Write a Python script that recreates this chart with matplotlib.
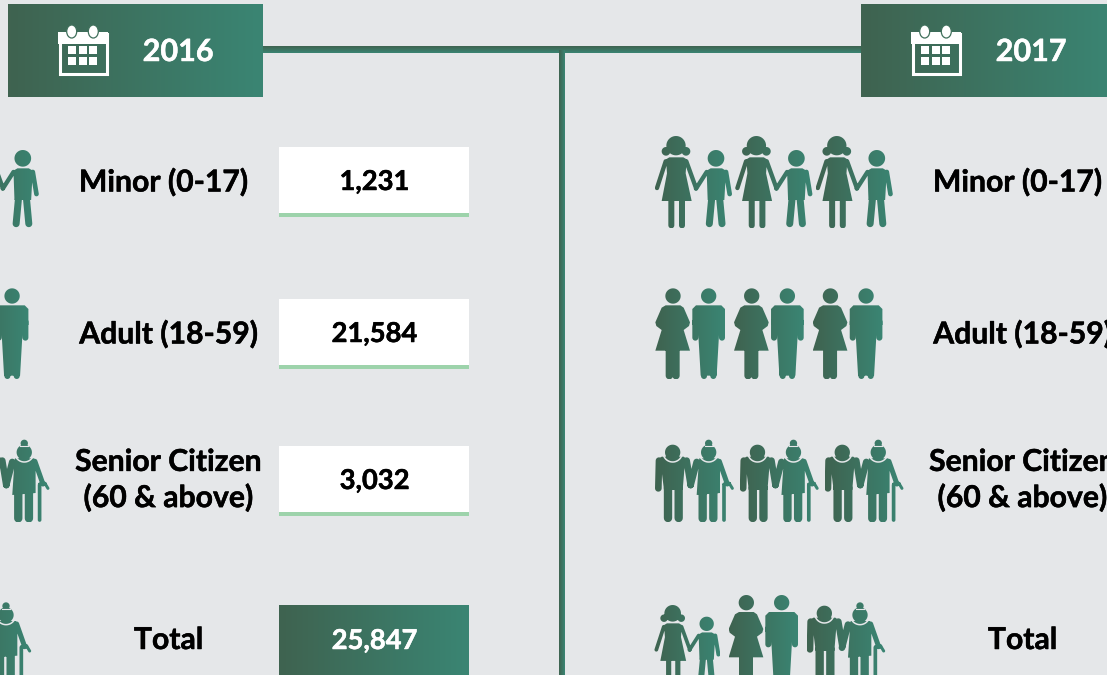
import numpy as np
import matplotlib
matplotlib.use('Agg')
import matplotlib.pyplot as plt
from matplotlib.colors import LinearSegmentedColormap
from matplotlib.patches import Rectangle, Ellipse, PathPatch
from matplotlib.path import Path
import matplotlib.patheffects as pe

# %%
#the data

years = ['2016', '2017']
categories = ['Minor (0-17)', 'Adult (18-59)', 'Senior Citizen\n(60 & above)', 'Total']
values_2016 = ['1,231', '21,584', '3,032', '25,847']

# %%
#output settings

plt.rcParams['font.family'] = ['Lato', 'DejaVu Sans']
plt.rcParams['font.weight'] = 'bold'

BG = '#e5e7e9'
DARK = '#3f6350'
TEAL = '#3a8573'
LINE = '#9dd3ab'
grad = LinearSegmentedColormap.from_list('grad', [DARK, TEAL])

fig = plt.figure(figsize=(11.07, 6.75), dpi=100, facecolor=BG)
ax = fig.add_axes([0, 0, 1, 1])
ax.set_facecolor(BG)
ax.axis('off')


# %%
#shape helpers, everything is in pixels, icon shapes in 3x pixels

def poly(pts):
    pts = np.asarray(pts, float)
    x, y = pts[:, 0], pts[:, 1]
    if np.sum(x*np.roll(y, -1) - np.roll(x, -1)*y) < 0:          #same winding for all, or the overlaps cancel
        pts = pts[::-1]
    return pts

def circle(cx, cy, r):
    t = np.linspace(0, 2*np.pi, 40, endpoint=False)
    return poly(np.c_[cx + r*np.cos(t), cy + r*np.sin(t)])

def capsule(p0, p1, w):
    p0, p1 = np.array(p0, float), np.array(p1, float)
    a = np.arctan2(*(p1 - p0)[::-1])
    t = np.linspace(-np.pi/2, np.pi/2, 10)
    end1 = p1 + w/2*np.c_[np.cos(a + t), np.sin(a + t)]
    end0 = p0 + w/2*np.c_[np.cos(a + t + np.pi), np.sin(a + t + np.pi)]
    return poly(np.r_[end1, end0])


def girl():
    return [circle(0, 29, 29), circle(-30, 46, 13), circle(30, 46, 13),
            poly([(-30, 70), (-20, 64), (22, 64), (32, 70), (29, 112), (47, 195), (-43, 195), (-27, 112)]),
            capsule((-31, 76), (-57, 156), 13), capsule((31, 76), (60, 156), 13),
            capsule((-14, 190), (-14, 268), 18), capsule((18, 190), (18, 268), 18)], []

def boy():
    return [circle(0, 25, 25),
            poly([(-28, 62), (-16, 55), (18, 55), (30, 62), (25, 150), (-25, 150)]),
            capsule((-28, 66), (-60, 116), 13), capsule((30, 66), (41, 132), 14),
            capsule((-12, 135), (-20, 221), 21), capsule((10, 135), (18, 221), 21)], []

def woman():
    return [circle(0, 23, 23),
            poly([(-22, 51), (22, 51), (32, 58), (51, 102), (48, 113), (32, 125), (51, 187),
                  (-53, 187), (-34, 125), (-50, 113), (-53, 102), (-34, 58)]),
            capsule((-11, 185), (-11, 262), 22), capsule((9, 185), (9, 262), 22)], []

def man():
    return [circle(0, 23, 23),
            poly([(-38, 51), (38, 51), (49, 62), (49, 110), (-49, 110), (-49, 62)]),
            capsule((-40, 100), (-40, 148), 18), capsule((40, 100), (40, 148), 18),
            poly([(-31, 100), (31, 100), (31, 140), (24, 262), (-24, 262), (-31, 140)]),
            capsule((-14, 240), (-14, 263), 18), capsule((14, 240), (14, 263), 18)], []

def oldman():
    collar = [(0, 23, 29)]
    return [circle(0, 23, 23),
            poly([(-33, 36), (33, 36), (38, 40), (30, 136), (-26, 136), (-38, 40)]),
            capsule((-41, 48), (-43, 131), 20), capsule((42, 48), (54, 121), 20),
            capsule((-14, 130), (-14, 220), 25), capsule((18, 130), (18, 220), 25)], collar

def oldwoman():
    collar = [(0, 23, 29)]
    return [circle(0, 23, 23), circle(0, -4, 11),
            poly([(-28, 41), (30, 41), (34, 60), (34, 145), (-36, 151), (-30, 60)]),
            capsule((-36, 52), (-54, 121), 20), capsule((32, 50), (56, 118), 15),
            capsule((-18, 145), (-18, 221), 25), capsule((14, 145), (14, 221), 25),
            capsule((46, 121), (46, 226), 11), capsule((46, 118), (62, 116), 9),
            capsule((62, 116), (71, 131), 9)], collar


#(shape, x of head, y of top, scale) in 3x pixels of the 2017 column, one tuple per figure of a pair
row1 = [(girl, 1920 + 108, 408, 1.), (boy, 1920 + 228, 450, 1.)]
row2 = [(woman, 1920 + 99, 865, 1.), (man, 1920 + 206, 865, 1.)]
row3 = [(oldman, 1920 + 98, 1334, 1.), (oldwoman, 1920 + 206, 1334, 1.)]
row4a = [(girl, 1920 + 98, 1815, .86), (boy, 1920 + 200, 1850, .86)]
row4b = [(woman, 1920 + 319, 1785, 1.), (man, 1920 + 425, 1785, 1.)]
row4c = [(oldman, 1920 + 553, 1817, 1.), (oldwoman, 1920 + 660, 1822, 1.)]


def draw_pair(pair, dx):
    pieces, collars = [], []
    for shape, hx, top, s in pair:
        polys, rings = shape()
        pieces += [np.c_[(hx + s*p[:, 0])/3 + dx, (top + s*p[:, 1])/3] for p in polys]
        collars += [((hx + s*c[0])/3 + dx, (top + s*c[1])/3, s*c[2]/3) for c in rings]
    path = Path.make_compound_path(*[Path(np.r_[p, p[:1]], closed=True) for p in pieces])
    ext = path.get_extents()
    im = ax.imshow(np.linspace(0, 1, 64)[None, :], cmap=grad, aspect='auto', interpolation='bilinear',
                   extent=(ext.x0, ext.x1, ext.y1, ext.y0), zorder=2)
    im.set_clip_path(PathPatch(path, transform=ax.transData))
    t = np.linspace(np.radians(20), np.radians(160), 30)
    for cx, cy, r in collars:
        ax.plot(cx + r*np.cos(t), cy + r*np.sin(t), color=BG, lw=1.1, zorder=3)
    for shape, hx, top, s in pair:
        if shape is oldwoman:          #gap between bun and head
            ax.plot([hx/3 + dx - 4, hx/3 + dx + 4], [(top + s*4)/3]*2, color=BG, lw=.8, zorder=3)


def grad_box(x0, y0, x1, y1, vertical=False, z=1):
    g = np.linspace(0, 1, 64)
    ax.imshow(g[:, None] if vertical else g[None, :], cmap=grad, aspect='auto', interpolation='bilinear',
              extent=(x0, x1, y1, y0), zorder=z)


def calendar(x):
    #x is the left edge of the icon
    ax.add_patch(Rectangle((x + 1.5, 33.5), 47, 40, fill=False, ec='white', lw=2.2, zorder=3))
    ax.add_patch(Rectangle((x, 32), 50, 11.5, fc='white', ec='none', zorder=3))
    for rx in (13.7, 35.3):
        ax.add_patch(Ellipse((x + rx, 31.5), 10, 13, fc='white', ec='#40705c', lw=.9, zorder=4))
    for sx in (10, 21, 31):
        for sy in (46, 57.3):
            ax.add_patch(Rectangle((x + sx, sy), 8.3, 8, fc='white', ec='none', zorder=3))


def bold_text(x, y, s, color, size):
    #the reference text is a little heavier than Lato Bold
    ax.text(x, y, s, color=color, fontsize=size, ha='center', va='center', zorder=5, linespacing=1.3,
            path_effects=[pe.withStroke(linewidth=.35, foreground=color)])


# %%
#lines and year banners

grad_box(263, 47, 861, 53.5, vertical=True)
grad_box(559, 50, 565, 675)

for year, bx in zip(years, (8, 861)):
    grad_box(bx, 4, bx + 255, 97, z=2)
    calendar(bx + 50)
    bold_text(bx + 170, 52, year, 'white', 22)

# %%
#category rows, the 2017 column is the 2016 one shifted right

label_x = [163.5, 168.5, 168.5, 168.5]
label_y = [182, 334, 480, 640]
box_y = [(147, 213), (299, 365), (446, 512), (605, 675)]

for shift in (-854, 0):
    for cat, x, y in zip(categories, label_x, label_y):
        bold_text(x + shift + 854, y, cat, 'black', 21.7)
    for k in range(3):
        draw_pair(row1, shift + 80.4*k)
        draw_pair(row2, shift + 78.7*k)
        draw_pair(row3, shift + 84.8*k)
    for pair in (row4a, row4b, row4c):
        draw_pair(pair, shift)

for i, (val, (y0, y1)) in enumerate(zip(values_2016, box_y)):
    if i < 3:
        ax.add_patch(Rectangle((279, y0), 190, y1 - y0, fc='white', ec='none', zorder=2))
        ax.add_patch(Rectangle((279, y1), 190, 4, fc=LINE, ec='none', zorder=2))
        color = 'black'
    else:
        grad_box(279, y0, 469, y1, z=2)
        color = 'white'
    bold_text(374.5, (y0 + y1)/2 + (1 if i == 3 else 2), val, color, 19.7)

ax.set_xlim(0, 1107)
ax.set_ylim(675, 0)

fig.savefig('out.png', dpi=100, facecolor=BG)
